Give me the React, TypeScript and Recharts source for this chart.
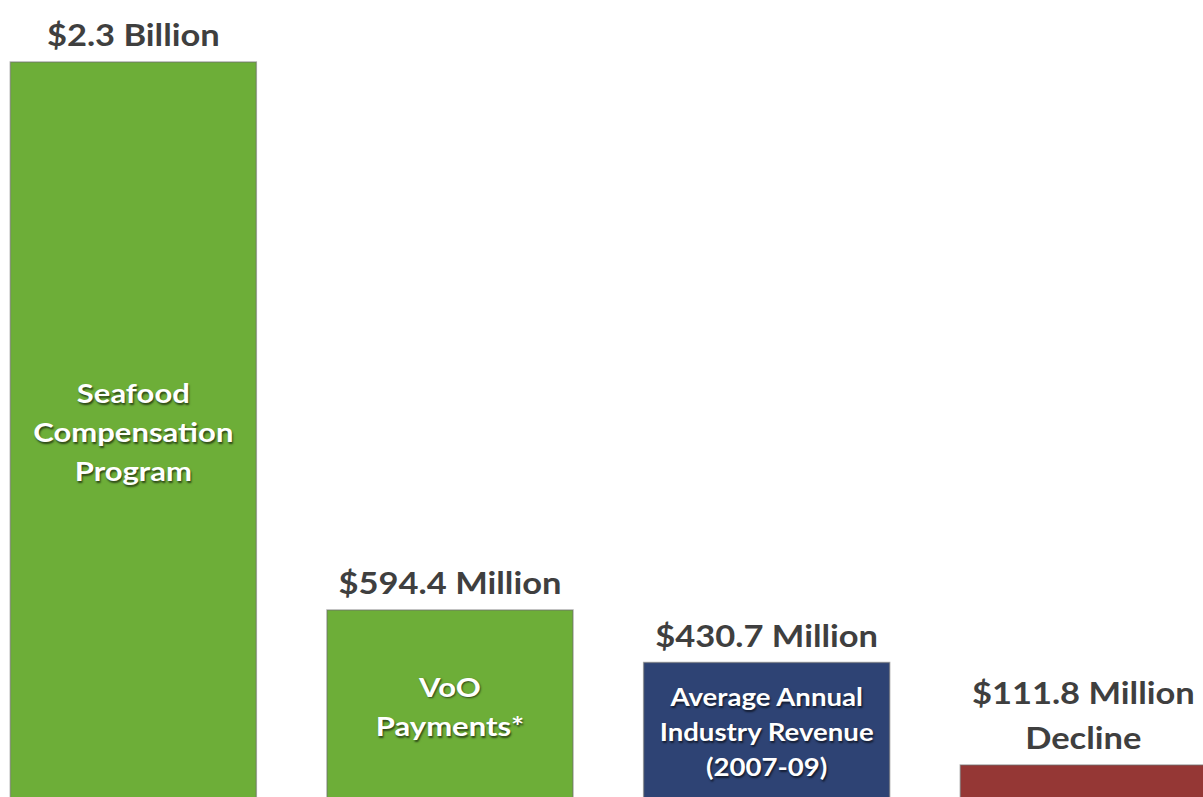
import React from 'react';
import { BarChart, Bar, XAxis, YAxis, Cell, LabelList } from 'recharts';

const categories = ['Seafood Compensation Program', 'VoO Payments*', 'Average Annual Industry Revenue (2007-09)', 'Decline'];
const values = [2300, 594.4, 430.7, 111.8];
const topLabels = [['$2.3 Billion'], ['$594.4 Million'], ['$430.7 Million'], ['$111.8 Million', 'Decline']];
const innerLabels = [['Seafood', 'Compensation', 'Program'], ['VoO', 'Payments*'], ['Average Annual', 'Industry Revenue', '(2007-09)'], []];
const barColors = ['#6DAE38', '#6DAE38', '#2E4374', '#953735'];
const innerSizes = [27, 27, 24, 24];

const data = categories.map((c, i) => ({ name: c, value: values[i], idx: i }));

const FONT = 'Lato, "Open Sans", sans-serif';
const SX = 1.15;

const TopLabel = (props: any) => {
  const { x, y, width, index } = props;
  const lines = topLabels[index];
  const cx = x + width / 2;
  const lh = 45;
  const n = lines.length;
  const off = 16;
  return (
    <g>
      {lines.map((l: string, k: number) => (
        <text key={k} x={0} y={0} transform={`translate(${cx},${y - off - (n - 1 - k) * lh}) scale(${SX},1)`}
          textAnchor="middle" fill="#3F3F3F"
          fontFamily={FONT} fontWeight={700} fontSize={30}>{l}</text>
      ))}
    </g>
  );
};

const InnerLabel = (props: any) => {
  const { x, y, width, height, index } = props;
  const lines = innerLabels[index];
  if (!lines.length) return null;
  const fs = innerSizes[index];
  const lh = fs * 1.45;
  const cx = x + width / 2;
  const bottom = Math.min(y + height, 801);
  const cy = (y + bottom) / 2;
  const n = lines.length;
  return (
    <g>
      {lines.map((l: string, k: number) => (
        <text key={k} x={0} y={0} transform={`translate(${cx},${cy + (k - (n - 1) / 2) * lh}) scale(${SX},1)`}
          textAnchor="middle" dominantBaseline="central"
          fill="#FFFFFF" fontFamily={FONT} fontWeight={700} fontSize={fs}
          style={{ textShadow: '1px 2px 2px rgba(0,0,0,0.6)' }}>{l}</text>
      ))}
    </g>
  );
};

export default function App() {
  return (
    <div style={{ position: 'fixed', left: 0, top: 0, width: 1203, height: 797, overflow: 'hidden', background: '#fff' }}>
      <div style={{ position: 'absolute', left: -25.33, top: 0 }}>
        <BarChart width={1266.67} height={801} data={data} margin={{ top: 62, right: 0, bottom: 0, left: 0 }}
          barCategoryGap={35.33}>
          <XAxis dataKey="name" hide />
          <YAxis hide domain={[0, 2300]} />
          <Bar dataKey="value" isAnimationActive={false} stroke="rgba(110,110,110,0.55)" strokeWidth={1.5}>
            {data.map((d, i) => (<Cell key={i} fill={barColors[i]} />))}
            <LabelList dataKey="value" content={TopLabel} />
            <LabelList dataKey="value" content={InnerLabel} />
          </Bar>
        </BarChart>
      </div>
    </div>
  );
}
